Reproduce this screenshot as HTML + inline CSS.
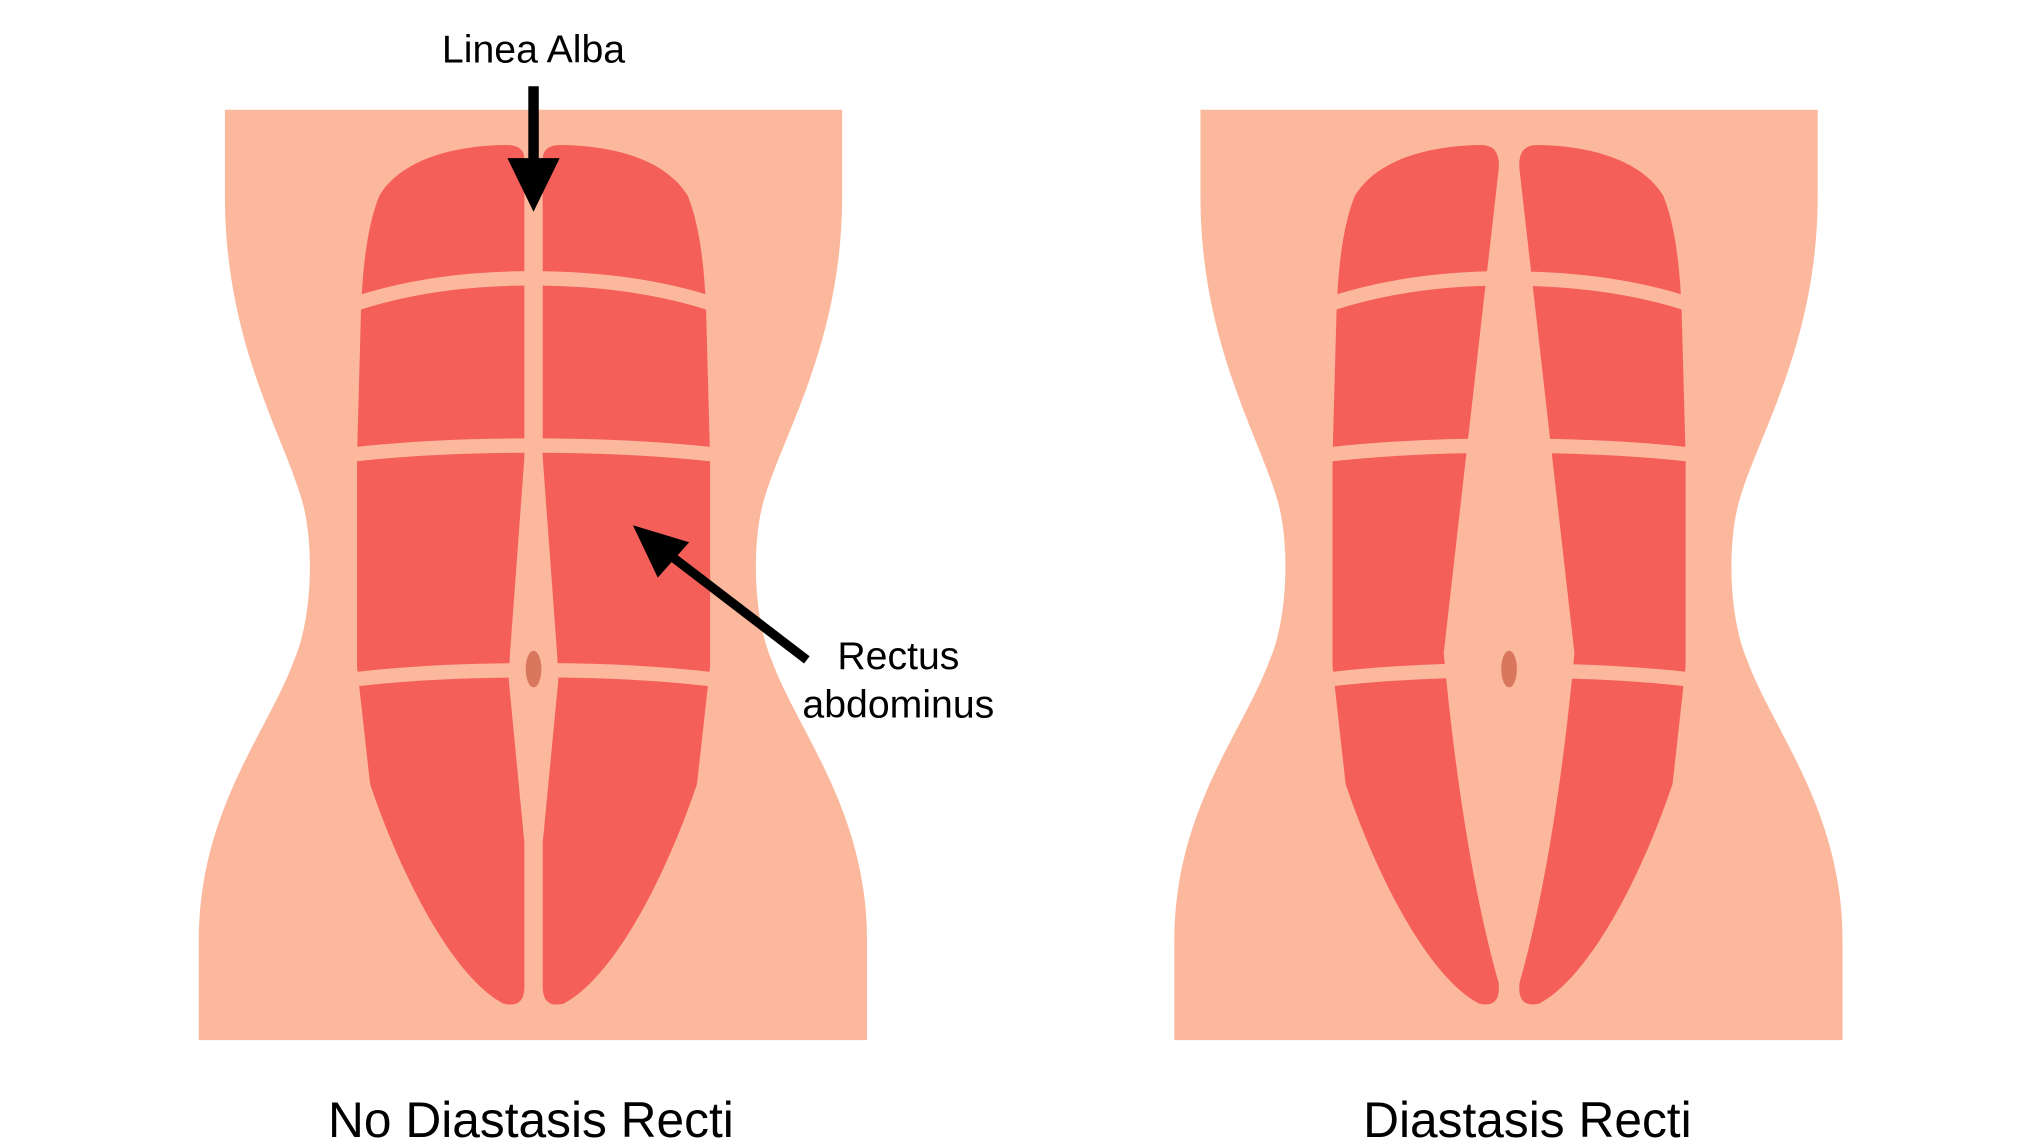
<!DOCTYPE html>
<html><head><meta charset="utf-8"><style>
html,body{margin:0;padding:0;background:#fff;}
svg{display:block;}
text{font-family:"Liberation Sans",sans-serif;fill:#000;}
</style></head><body>
<svg width="2040" height="1146" viewBox="0 0 1560 877" preserveAspectRatio="none" xmlns="http://www.w3.org/2000/svg">
<defs>
<g id="torso">
<path d="M172,84 L644,84 L644,150 C644,260 600,330 585,380 C575,410 575,470 590,505 C610,560 663,620 663,720 L663,796 L152,796 L152,720 C152,620 205,560 225,505 C240,470 240,410 230,380 C215,330 172,260 172,150 Z" fill="#fbb89c"/>
</g>
</defs>
<!-- LEFT -->
<use href="#torso"/>
<g fill="#f45f5a">
<path d="M401,122 Q401,110 385,111 C340,112 305,125 290,150 C280,175 277,210 276,240 L273,350 L273,510 L283,600 C310,680 350,750 385,768 Q401,772 401,755 L401,645 L389,520 L390,500 L401,350 Z"/>
<path d="M415,122 Q415,110 431,111 C476,112 511,125 526,150 C536,175 539,210 540,240 L543,350 L543,510 L533,600 C506,680 466,750 431,768 Q415,772 415,755 L415,645 L427,520 L426,500 L415,350 Z"/>
</g>
<g fill="none" stroke="#fbb89c" stroke-width="11">
<path d="M270,233 Q330,213 405,213 Q486,213 546,233"/>
<path d="M268,348 Q330,341 405,341 Q486,341 548,348"/>
<path d="M270,520 Q330,513 400,513 M416,513 Q486,513 546,520"/>
</g>
<ellipse cx="408" cy="512" rx="6" ry="14" fill="#d9775e"/>
<!-- arrows -->
<rect x="404" y="66" width="8" height="60" fill="#000"/>
<polygon points="388,121 428,121 408,162" fill="#000"/>
<line x1="617" y1="505" x2="510" y2="423" stroke="#000" stroke-width="7"/>
<polygon points="484,402 527,415 503,442" fill="#000"/>
<text x="408" y="48" font-size="30" text-anchor="middle">Linea Alba</text>
<text x="687" y="512" font-size="30" text-anchor="middle">Rectus</text>
<text x="687" y="549" font-size="30" text-anchor="middle">abdominus</text>
<text x="406" y="870" font-size="38" text-anchor="middle">No Diastasis Recti</text>
<!-- RIGHT -->
<g transform="translate(746,0)">
<use href="#torso"/>
<g fill="#f45f5a">
<path d="M400,130 Q402,110 385,111 C340,112 305,125 290,150 C280,175 277,210 276,240 L273,350 L273,510 L283,600 C310,680 350,750 385,768 Q402,772 400,752 C385,700 370,620 360,520 L358,500 Z"/>
<path d="M416,130 Q414,110 431,111 C476,112 511,125 526,150 C536,175 539,210 540,240 L543,350 L543,510 L533,600 C506,680 466,750 431,768 Q414,772 416,752 C431,700 446,620 456,520 L458,500 Z"/>
</g>
<g fill="none" stroke="#fbb89c" stroke-width="11">
<path d="M270,233 Q330,213 405,213 Q486,213 546,233"/>
<path d="M268,348 Q330,341 405,341 Q486,341 548,348"/>
<path d="M270,520 Q330,513 400,513 Q486,513 546,520"/>
</g>
<ellipse cx="408" cy="512" rx="6" ry="14" fill="#d9775e"/>
<text x="422" y="870" font-size="38" text-anchor="middle">Diastasis Recti</text>
</g>
</svg>
</body></html>
